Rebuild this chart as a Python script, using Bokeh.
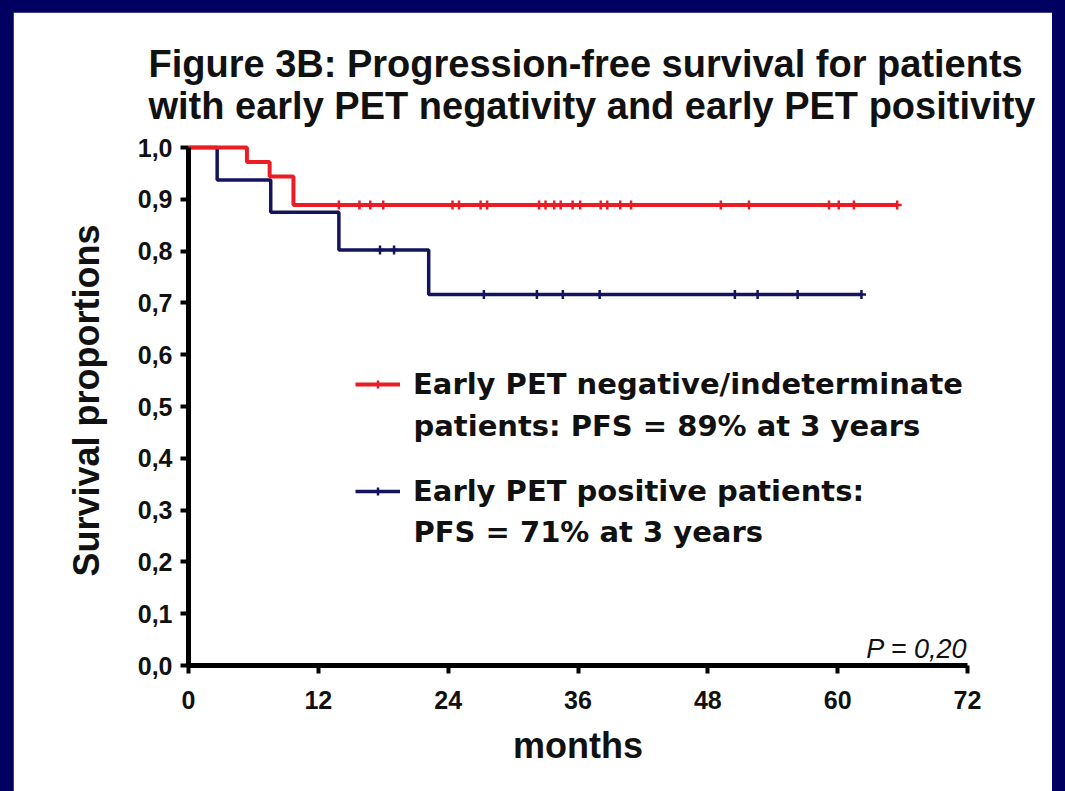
import numpy as np
from bokeh.plotting import figure
from bokeh.models import Range1d, FixedTicker, Legend, LegendItem, Label, Title
from bokeh.embed import file_html
from bokeh.resources import INLINE

# ---------------- data ----------------
red_event_t = [0.0, 5.4, 7.5, 9.7]
red_event_s = [1.0, 0.972, 0.944, 0.889]
red_end_t = 65.5
red_censor_t = [13.9, 15.8, 16.8, 18.0, 24.4, 25.0, 27.0, 27.6, 32.4, 33.0, 33.8,
                34.4, 35.5, 36.2, 38.1, 38.7, 39.9, 40.9, 49.2, 51.8, 59.2, 60.1,
                61.5, 65.5]

blue_event_t = [0.0, 2.65, 7.6, 13.9, 22.2]
blue_event_s = [1.0, 0.9375, 0.875, 0.802, 0.716]
blue_end_t = 62.2
blue_censor_t = [17.7, 19.0, 27.3, 32.2, 34.6, 38.0, 50.5, 52.6, 56.3, 62.2]

x_ticks = [0, 12, 24, 36, 48, 60, 72]
y_ticks = [0.0, 0.1, 0.2, 0.3, 0.4, 0.5, 0.6, 0.7, 0.8, 0.9, 1.0]
y_tick_labels = ["0,0", "0,1", "0,2", "0,3", "0,4", "0,5", "0,6", "0,7", "0,8", "0,9", "1,0"]

title_text = "Figure 3B: Progression-free survival for patients\nwith early PET negativity and early PET positivity"
legend_red = ["Early PET negative/indeterminate", "patients: PFS = 89% at 3 years"]
legend_blue = ["Early PET positive patients:", "PFS = 71% at 3 years"]
p_value_text = "P = 0,20"

RED = "#ec1c24"
BLUE = "#14145e"
NAVY_BG = "#000060"

SANS = "Liberation Sans"
WIDE = "DejaVu Sans"


def step_xy(ts, ss, end_t):
    return list(ts) + [end_t], list(ss) + [ss[-1]]


def surv_at(ts, ss, t_list):
    idx = np.searchsorted(np.array(ts), np.array(t_list), side="right") - 1
    return [ss[i] for i in idx]


# ---------------- figure ----------------
W, H = 1039, 779
p = figure(width=W, height=H, output_backend="svg", toolbar_location=None,
           x_range=Range1d(0, 72), y_range=Range1d(0, 530 / 518),
           min_border_left=175, min_border_right=85, min_border_top=123,
           min_border_bottom=126, background_fill_color="white",
           border_fill_color="white", outline_line_color="white",
           outline_line_width=2)
p.grid.visible = False

title = Title(text=title_text, align="left", text_font=SANS, offset=-40,
              text_font_size="38px", text_font_style="bold", text_color="#111111",
              text_line_height=1.0, standoff=17)
p.add_layout(title, "above")

# axes
for ax in (p.xaxis[0], p.yaxis[0]):
    ax.axis_line_width = 5
    ax.axis_line_color = "black"
    ax.major_tick_line_width = 4
    ax.major_tick_line_color = "black"
    ax.major_tick_out = 8
    ax.major_tick_in = 0
    ax.minor_tick_line_color = None
    ax.major_label_text_font = SANS
    ax.major_label_text_font_style = "bold"
    ax.major_label_text_font_size = "25px"
    ax.major_label_text_color = "#111111"
    ax.axis_label_text_font = SANS
    ax.axis_label_text_font_style = "bold"
    ax.axis_label_text_font_size = "36px"
    ax.axis_label_text_color = "#111111"

p.xaxis[0].ticker = FixedTicker(ticks=x_ticks)
p.xaxis[0].bounds = (0, 72)
p.xaxis[0].axis_label = "months"
p.xaxis[0].major_label_standoff = 17
p.xaxis[0].axis_label_standoff = 13

p.yaxis[0].ticker = FixedTicker(ticks=y_ticks)
p.yaxis[0].bounds = (0, 1)
p.yaxis[0].major_label_overrides = {t: l for t, l in zip(y_ticks, y_tick_labels)}
p.yaxis[0].axis_label = "Survival proportions"
p.yaxis[0].major_label_standoff = 8
p.yaxis[0].axis_label_standoff = 28

# curves
rx, ry = step_xy(red_event_t, red_event_s, red_end_t)
bx, by = step_xy(blue_event_t, blue_event_s, blue_end_t)

b_line = p.step(bx, by, mode="after", line_color=BLUE, line_width=3.5)
r_line = p.step(rx, ry, mode="after", line_color=RED, line_width=4)

b_cens = p.scatter(blue_censor_t, surv_at(blue_event_t, blue_event_s, blue_censor_t),
                   marker="cross", size=9, line_color=BLUE, line_width=2.5)
r_cens = p.scatter(red_censor_t, surv_at(red_event_t, red_event_s, red_censor_t),
                   marker="cross", size=9, line_color=RED, line_width=2.5)

legend = Legend(items=[LegendItem(label=legend_red[0], renderers=[r_line, r_cens]),
                       LegendItem(label=legend_blue[0], renderers=[b_line, b_cens])],
                location=(167, 157), orientation="vertical", glyph_width=45,
                glyph_height=20, label_standoff=13, spacing=72, padding=0, margin=0,
                border_line_color=None, background_fill_alpha=0,
                label_text_font=WIDE, label_text_font_style="bold",
                label_text_font_size="29px", label_text_color="#111111",
                label_height=35)
p.add_layout(legend)

for txt, yv in ((legend_red[1], 0.4633), (legend_blue[1], 0.2568)):
    p.add_layout(Label(x=20.8, y=yv, text=txt, text_font=WIDE,
                       text_font_style="bold", text_font_size="29px",
                       text_color="#111111", text_baseline="middle"))

p.add_layout(Label(x=72, y=0.031, text=p_value_text, text_align="right",
                   text_baseline="alphabetic", text_font=SANS,
                   text_font_style="italic", text_font_size="27px",
                   text_color="#111111"))

html = file_html(p, INLINE)
i = html.rfind("<body")
j = html.find(">", i)
html = (html[:i]
        + '<body style="margin:0;padding:12px 0 0 13px;background-color:%s;overflow:hidden;">' % NAVY_BG
        + html[j + 1:])
open("out.html", "w").write(html)
